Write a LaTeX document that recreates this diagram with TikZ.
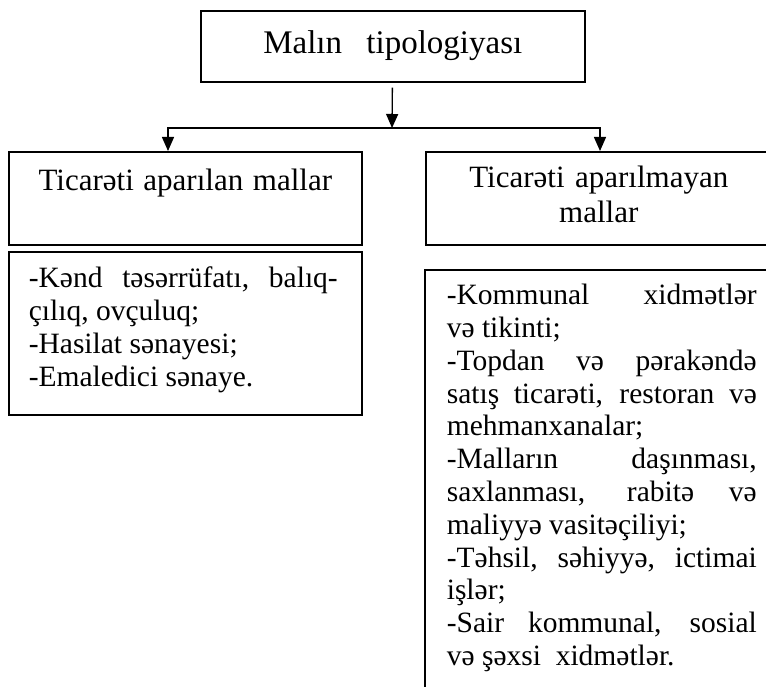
\documentclass[tikz,border=0pt]{standalone}
\usepackage{fontspec}
\setmainfont{Liberation Serif}
\usetikzlibrary{arrows.meta}
\tikzset{>={Triangle[length=14pt,width=12pt]}}
\newcommand{\jl}[2][310pt]{\makebox[#1][s]{#2}}

\begin{document}
\begin{tikzpicture}[x=1pt,y=-1pt,
    box/.style={draw,line width=1.6pt,rectangle,inner xsep=0pt,inner ysep=0pt,anchor=north west,
      execute at begin node={\spaceskip=0pt\xspaceskip=0pt\relax}},
    headbox/.style={box,align=center,font=\fontsize{31}{35}\selectfont},
    bodybox/.style={box,align=left,font=\fontsize{29.5}{32.8}\selectfont},
    conn/.style={line width=1.3pt}]
  \useasboundingbox (0,0) rectangle (766,687);
  \clip (0,0) rectangle (766,687);
  % Boxes
  \node[headbox,text width=384pt,text height=43pt,text depth=28pt,
    font=\fontsize{33}{38}\selectfont] (top) at (200,10) {Malın\ \ tipologiyası};
  \node[headbox,text width=353pt,text height=39pt,text depth=54pt] (lhead) at (8,151)
    {Ticarəti aparılan mallar};
  \node[headbox,text width=346pt,text height=36pt,text depth=57pt] (rhead) at (425,151)
    {Ticarəti aparılmayan\\mallar};
  \node[bodybox,inner xsep=20pt,text width=313pt,text height=36pt,text depth=127pt] (lbody) at (8,251)
    {\jl[309pt]{-Kənd\ \ təsərrüfatı,\ \ balıq-}\\
     çılıq, ovçuluq;\\
     -Hasilat sənayesi;\\
     -Emaledici sənaye.};
  \node[bodybox,inner xsep=22pt,text width=310pt,text height=35pt,text depth=430pt] (rbody) at (424,269)
    {\jl{-Kommunal xidmətlər}\\
     və tikinti;\\
     \jl{-Topdan və pərakəndə}\\
     \jl{satış ticarəti, restoran və}\\
     mehmanxanalar;\\
     \jl{-Malların daşınması,}\\
     \jl{saxlanması, rabitə və}\\
     maliyyə vasitəçiliyi;\\
     \jl{-Təhsil, səhiyyə, ictimai}\\
     işlər;\\
     \jl{-Sair kommunal, sosial}\\
     və şəxsi\ \ xidmətlər.};
  % Connectors
  \coordinate (split) at (392,128);
  \coordinate (lsplit) at (168,128);
  \coordinate (rsplit) at (600,128);
  \draw[conn,->,shorten <=5pt] (top) -- (split);
  \draw[conn] ([xshift=-1pt]lsplit) -- ([xshift=1pt]rsplit);
  \draw[conn,->] (lsplit) -- (lsplit |- lhead.north);
  \draw[conn,->] (rsplit) -- (rsplit |- rhead.north);
\end{tikzpicture}
\end{document}
